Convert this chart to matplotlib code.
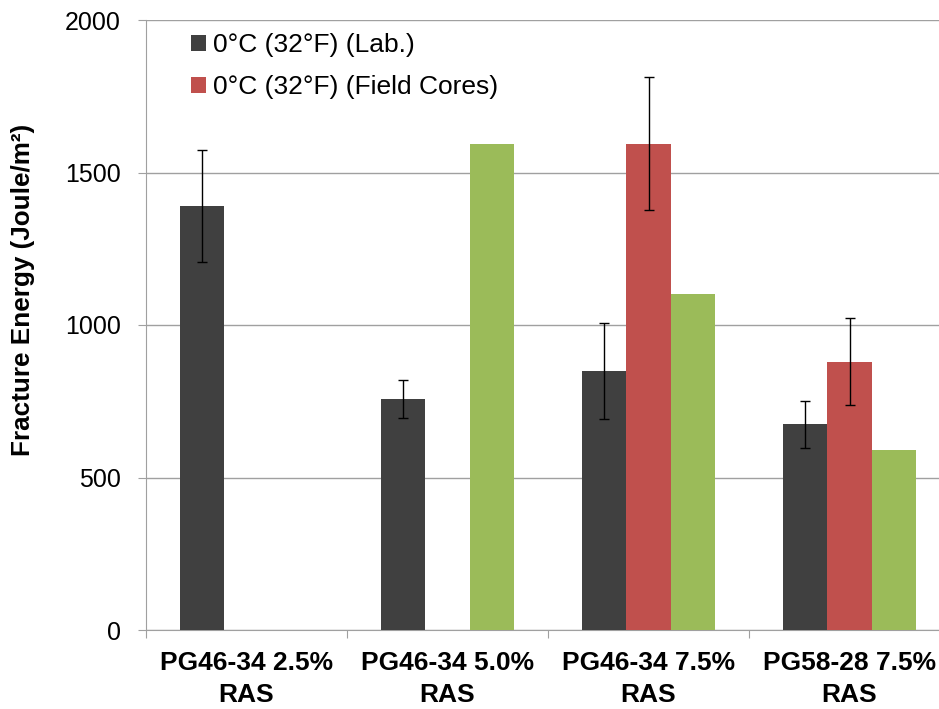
import numpy as np
import matplotlib
matplotlib.use("Agg")
from matplotlib import pyplot as plt

# data
categories = ["PG46-34 2.5%\nRAS", "PG46-34 5.0%\nRAS", "PG46-34 7.5%\nRAS", "PG58-28 7.5%\nRAS"]
lab = [1390, 757, 848, 675]
lab_err = [185, 62, 157, 77]
field = [0, 0, 1595, 880]
field_err = [0, 0, 219, 142]
third = [0, 1595, 1102, 591]
y_ticks = [0, 500, 1000, 1500, 2000]

plt.rcParams['font.family'] = ['Liberation Sans', 'DejaVu Sans']

fig = plt.figure(figsize=(9.39, 7.09), dpi=100)
# axes run a little past the right edge like the original crop
ax = fig.add_axes([146/939, 1 - 630/709, 804/939, 610/709])

x = np.arange(len(categories))
w = 0.22
ax.bar(x - w, lab, w, color='#404040', label='0°C (32°F) (Lab.)', zorder=3)
ax.errorbar(x - w, lab, yerr=lab_err, fmt='none', ecolor='black', elinewidth=1, capsize=3.5, zorder=4)

fx = x[2:]
ax.bar(fx, field[2:], w, color='#C0504D', label='0°C (32°F) (Field Cores)', zorder=3)
ax.errorbar(fx, field[2:], yerr=field_err[2:], fmt='none', ecolor='black', elinewidth=1, capsize=3.5, zorder=4)

tx = x[1:]
ax.bar(tx + w, third[1:], w, color='#9BBB59', zorder=3)

ax.set_ylim(0, 2000)
ax.set_xlim(-0.5, 3.5)
ax.set_yticks(y_ticks)
ax.tick_params(axis='y', labelsize=18, length=6, color='#A0A0A0', pad=12)
ax.yaxis.grid(True, color='#A0A0A0', linewidth=1, zorder=0)

# category boundary ticks
ax.set_xticks(np.arange(-0.5, 4.0, 1.0))
ax.set_xticklabels([])
ax.set_xticks(x, minor=True)
ax.set_xticklabels(categories, minor=True, fontsize=19, fontweight='bold', linespacing=1.45)
ax.tick_params(axis='x', which='major', length=6, color='#A0A0A0')
ax.tick_params(axis='x', which='minor', length=0, pad=15)

for s in ['top', 'right']:
    ax.spines[s].set_visible(False)
for s in ['left', 'bottom']:
    ax.spines[s].set_color('#A0A0A0')

ax.set_ylabel('Fracture Energy (Joule/m²)', fontsize=18.8, fontweight='bold')
ax.yaxis.set_label_coords(-0.138, 0.557)

ax.legend(loc='upper left', bbox_to_anchor=(0.026, 1.017), frameon=False, fontsize=19,
          handlelength=0.6, handleheight=0.6, handletextpad=0.25, labelspacing=0.68)

fig.savefig('out.png', dpi=100)
